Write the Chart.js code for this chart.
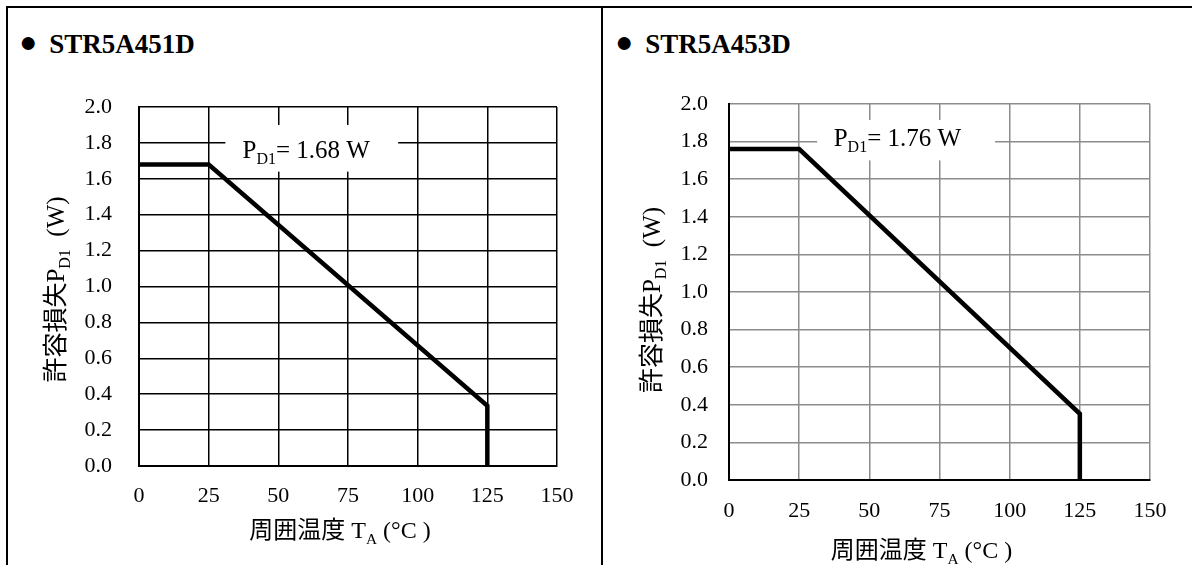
<!DOCTYPE html>
<html>
<head>
<meta charset="utf-8">
<script src="https://cdn.jsdelivr.net/npm/chart.js@4.4.1/dist/chart.umd.min.js"></script>
<style>
body{margin:0;background:#fff;width:1192px;height:565px;overflow:hidden;position:relative;font-family:"Liberation Serif","Times New Roman",serif;}
.hline{position:absolute;left:6px;top:6px;width:1186px;height:2px;background:#000}
.vline{position:absolute;top:6px;width:2px;height:560px;background:#000}
.title{position:absolute;top:31px;font-weight:bold;font-size:27px;line-height:26px;white-space:nowrap}
.title .dot{font-size:30px;line-height:0;position:relative;top:-1px;margin-right:12px}
canvas{position:absolute}
</style>
</head>
<body>
<div class="hline"></div>
<div class="vline" style="left:6px"></div>
<div class="vline" style="left:601px"></div>
<div class="title" style="left:19px"><span class="dot">●</span>STR5A451D</div>
<div class="title" style="left:615px"><span class="dot">●</span>STR5A453D</div>
<div style="position:absolute;left:8px;top:60px;width:592px;height:505px"><canvas id="c451"></canvas></div>
<div style="position:absolute;left:604px;top:60px;width:588px;height:505px"><canvas id="c453"></canvas></div>
<script>
// derating curves
const tempC = [0, 25, 125, 125];
const pd451 = [1.68, 1.68, 0.336, 0];
const pd453 = [1.76, 1.76, 0.352, 0];
const xTicks = [0, 25, 50, 75, 100, 125, 150];
const yTicks = [0, 0.2, 0.4, 0.6, 0.8, 1.0, 1.2, 1.4, 1.6, 1.8, 2.0];

const FONT = '"Liberation Serif", "Times New Roman", "Noto Sans CJK JP", serif';

function richText(ctx, parts, x, y, size, align) {
  let total = 0;
  const widths = parts.map(([t, sub]) => {
    ctx.font = (sub ? size * 0.64 : size) + 'px ' + FONT;
    const w = ctx.measureText(t).width;
    total += w;
    return w;
  });
  let cx = align === 'center' ? x - total / 2 : x;
  ctx.textAlign = 'left';
  ctx.textBaseline = 'alphabetic';
  parts.forEach(([t, sub], i) => {
    ctx.font = (sub ? size * 0.64 : size) + 'px ' + FONT;
    ctx.fillText(t, cx, sub ? y + size * 0.24 : y);
    cx += widths[i];
  });
}

const deratingText = {
  id: 'deratingText',
  beforeDatasetsDraw(chart, args, o) {
    const {ctx, scales: {x, y}} = chart;
    const b = o.box;
    ctx.save();
    ctx.fillStyle = '#fff';
    const l = x.getPixelForValue(b[0]), r = x.getPixelForValue(b[1]);
    const t = y.getPixelForValue(b[3]), bt = y.getPixelForValue(b[2]);
    ctx.fillRect(l, t, r - l, bt - t);
    ctx.fillStyle = '#000';
    richText(ctx, [['P', false], ['D1', true], ['= ' + o.value.toFixed(2) + ' W', false]],
      x.getPixelForValue(o.tx), y.getPixelForValue(o.ty) + 8, 25, 'center');
    ctx.restore();
  },
  afterDraw(chart, args, o) {
    const {ctx, chartArea: a} = chart;
    ctx.save();
    ctx.fillStyle = '#000';
    // x axis title
    richText(ctx, [['周囲温度 T', false], ['A', true], [' (°C )', false]],
      (a.left + a.right) / 2 + o.xTitleDx, a.bottom + o.xTitleDy, 24, 'center');
    // y axis title
    ctx.translate(o.yTitleX, (a.top + a.bottom) / 2 + o.yTitleDy);
    ctx.rotate(-Math.PI / 2);
    richText(ctx, [['許容損失P', false], ['D1', true], ['  (W)', false]], 0, 8, 25, 'center');
    ctx.restore();
  }
};

function makeChart(id, power, cfg) {
  return new Chart(document.getElementById(id), {
    type: 'scatter',
    data: {
      datasets: [{
        data: tempC.map((t, i) => ({x: t, y: power[i]})),
        showLine: true,
        borderColor: '#000',
        borderWidth: 4.5,
        pointRadius: 0,
        borderJoinStyle: 'miter',
        clip: false
      }]
    },
    options: {
      responsive: true,
      maintainAspectRatio: false,
      animation: false,
      layout: {padding: {left: 0, top: cfg.top, right: cfg.right, bottom: 0}},
      plugins: {
        legend: {display: false},
        tooltip: {enabled: false},
        deratingText: {
          value: power[0], box: cfg.box, tx: 60, ty: cfg.ty,
          xTitleDx: cfg.xTitleDx, xTitleDy: cfg.xTitleDy, yTitleX: 48, yTitleDy: cfg.yTitleDy
        }
      },
      scales: {
        x: {
          type: 'linear', min: 0, max: 150,
          afterBuildTicks: s => { s.ticks = xTicks.map(v => ({value: v})); },
          afterFit: s => { s.height = cfg.xHeight; },
          grid: {color: cfg.gridColor, lineWidth: 1.5, drawTicks: false},
          border: {color: '#000', width: 2},
          ticks: {color: '#000', padding: cfg.xPad, font: {family: FONT, size: 22}}
        },
        y: {
          type: 'linear', min: 0, max: 2,
          afterBuildTicks: s => { s.ticks = yTicks.map(v => ({value: v})); },
          afterFit: s => { s.width = cfg.yWidth; },
          grid: {color: cfg.gridColor, lineWidth: 1.5, drawTicks: false},
          border: {color: '#000', width: 2},
          ticks: {color: '#000', padding: cfg.yPad, font: {family: FONT, size: 22},
            callback: v => v.toFixed(1)}
        }
      }
    },
    plugins: [deratingText]
  });
}

makeChart('c451', pd451, {
  top: 47, right: 43, yWidth: 131, xHeight: 99, gridColor: '#000',
  box: [31, 93, 1.64, 1.90], ty: 1.76, xPad: 17, yPad: 27,
  xTitleDx: -8, xTitleDy: 72, yTitleDy: 3
});
makeChart('c453', pd453, {
  top: 44, right: 42, yWidth: 125, xHeight: 85, gridColor: '#8c8c8c',
  box: [31.4, 94.8, 1.70, 1.915], ty: 1.82, xPad: 18, yPad: 21,
  xTitleDx: -18, xTitleDy: 78, yTitleDy: 8
});
</script>
</body>
</html>
